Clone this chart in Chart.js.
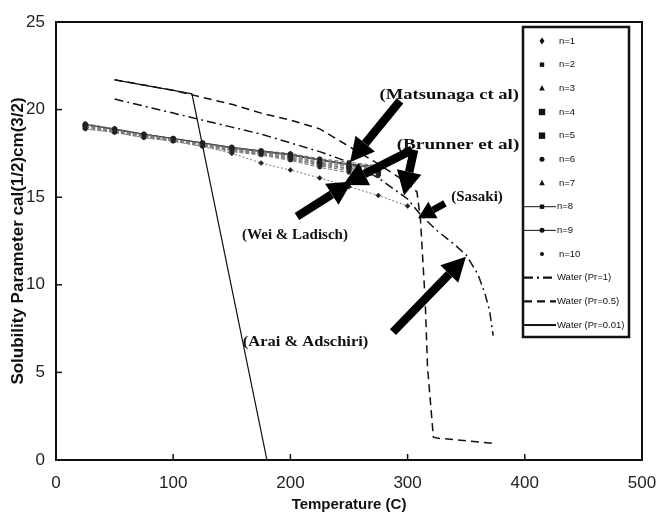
<!DOCTYPE html>
<html lang="en">
<head>
<meta charset="utf-8" />
<title>Solubility parameter vs temperature</title>
<script src="https://cdn.jsdelivr.net/npm/chart.js@4.4.1/dist/chart.umd.min.js"></script>
<style>
  html, body { margin: 0; padding: 0; background: #fff; }
</style>
</head>
<body>
<canvas id="sp_chart" width="661" height="518"></canvas>
<script>
  // temperatures (C) of the oligomer points
  const temps = [25, 50, 75, 100, 125, 150, 175, 200, 225, 250, 275];
  const tempsN1 = [25, 50, 75, 100, 125, 150, 175, 200, 225, 250, 275, 300];

  // solubility parameter cal(1/2)cm(3/2) for n = 1..10
  const n1 = [18.9, 18.7, 18.4, 18.2, 17.9, 17.5, 16.95, 16.55, 16.1, 15.6, 15.1, 14.5];
  const n2 = [18.9, 18.7, 18.4, 18.2, 17.9, 17.6, 17.4, 17.1, 16.7, 16.4, 16.2];
  const n3 = [19.0, 18.75, 18.45, 18.25, 17.95, 17.65, 17.45, 17.15, 16.8, 16.5, 16.3];
  const n4 = [19.0, 18.75, 18.5, 18.25, 18.0, 17.7, 17.5, 17.2, 16.85, 16.6, 16.35];
  const n5 = [19.05, 18.8, 18.5, 18.3, 18.0, 17.7, 17.5, 17.25, 16.9, 16.65, 16.45];
  const n6 = [19.1, 18.8, 18.55, 18.3, 18.05, 17.75, 17.55, 17.3, 16.95, 16.75, 16.55];
  const n7 = [19.1, 18.85, 18.55, 18.3, 18.05, 17.8, 17.6, 17.35, 17.0, 16.8, 16.6];
  const n8 = [19.15, 18.85, 18.6, 18.35, 18.1, 17.8, 17.6, 17.4, 17.1, 16.85, 16.65];
  const n9 = [19.15, 18.9, 18.6, 18.35, 18.1, 17.85, 17.65, 17.45, 17.15, 16.9, 16.75];
  const n10 = [19.2, 18.9, 18.6, 18.35, 18.1, 17.85, 17.65, 17.5, 17.2, 17.0, 16.8];

  // water curves
  const waterPr1T = [50, 75, 100, 125, 150, 175, 200, 225, 250, 275, 300, 311, 325, 340, 350, 360, 366, 370, 373];
  const waterPr1S = [20.6, 20.2, 19.8, 19.4, 19.0, 18.6, 18.1, 17.6, 17.0, 16.1, 14.9, 14.0, 13.1, 12.3, 11.7, 10.6, 9.5, 8.5, 7.1];
  const waterPr05T = [50, 75, 100, 125, 150, 175, 200, 225, 250, 275, 300, 308, 311, 315, 317, 322, 325, 350, 373];
  const waterPr05S = [21.7, 21.4, 21.1, 20.7, 20.3, 19.8, 19.4, 18.9, 17.9, 16.9, 15.8, 15.3, 13.7, 9.1, 5.3, 1.3, 1.25, 1.1, 0.95];
  const waterPr001T = [50, 75, 100, 116, 180];
  const waterPr001S = [21.7, 21.4, 21.1, 20.9, 0];

  // annotations (data units): label text, label position, arrow tails and tips
  const noteTexts = ["(Matsunaga ct al)", "(Brunner et al)", "(Sasaki)", "(Wei & Ladisch)", "(Arai & Adschiri)"];
  const noteX = [335.5, 343.0, 359.2, 203.9, 212.9];
  const noteY = [20.8, 18.0, 15.0, 12.83, 6.7];
  const noteStretch = [1.24, 1.28, 1.0, 1.0, 1.1];
  const arrowTailX = [293.5, 303.8, 305.5, 331.9, 205.6, 287.5];
  const arrowTailY = [20.5, 17.7, 17.7, 14.65, 13.9, 7.3];
  const arrowTipX = [250.9, 244.9, 296.9, 308.9, 252.6, 349.8];
  const arrowTipY = [17.0, 15.7, 15.1, 13.8, 15.9, 11.6];

  function pts(xs, ys) {
    return xs.map((x, i) => ({ x: x, y: ys[i] }));
  }

  function nSeries(label, ys, style, radius, dash, xs, withLine) {
    return {
      label: label,
      data: pts(xs || temps, ys),
      showLine: true,
      borderColor: withLine ? "#444" : "#777",
      borderWidth: 1,
      borderDash: dash,
      pointStyle: style,
      pointRadius: radius,
      pointBackgroundColor: "#222",
      pointBorderColor: "#222",
      pointBorderWidth: 0.5,
      legendLine: withLine,
    };
  }

  const datasets = [
    nSeries("n=1", n1, "rectRot", 2.5, [2, 2], tempsN1, false),
    nSeries("n=2", n2, "rect", 2.2, [4, 2], null, false),
    nSeries("n=3", n3, "triangle", 2.8, [4, 2], null, false),
    nSeries("n=4", n4, "rect", 3.2, [4, 2], null, false),
    nSeries("n=5", n5, "rect", 3.2, [4, 2], null, false),
    nSeries("n=6", n6, "circle", 2.5, [4, 2], null, false),
    nSeries("n=7", n7, "triangle", 2.8, [4, 2], null, false),
    nSeries("n=8", n8, "rect", 2.2, [], null, true),
    nSeries("n=9", n9, "circle", 2.5, [], null, true),
    nSeries("n=10", n10, "circle", 2, [4, 2], null, false),
    {
      label: "Water (Pr=1)",
      data: pts(waterPr1T, waterPr1S),
      showLine: true, borderColor: "#111", borderWidth: 1.5,
      borderDash: [9, 4, 2, 4], pointRadius: 0, legendLine: true,
    },
    {
      label: "Water (Pr=0.5)",
      data: pts(waterPr05T, waterPr05S),
      showLine: true, borderColor: "#111", borderWidth: 1.5,
      borderDash: [8, 5], pointRadius: 0, legendLine: true,
    },
    {
      label: "Water (Pr=0.01)",
      data: pts(waterPr001T, waterPr001S),
      showLine: true, borderColor: "#111", borderWidth: 1.2,
      borderDash: [], pointRadius: 0, legendLine: true,
    },
  ];

  function drawMarker(ctx, style, r, x, y) {
    ctx.beginPath();
    if (style === "rect") {
      ctx.rect(x - r, y - r, 2 * r, 2 * r);
    } else if (style === "rectRot") {
      ctx.moveTo(x, y - r * 1.4); ctx.lineTo(x + r, y);
      ctx.lineTo(x, y + r * 1.4); ctx.lineTo(x - r, y);
      ctx.closePath();
    } else if (style === "triangle") {
      ctx.moveTo(x, y - r * 1.2); ctx.lineTo(x + r, y + r * 0.8);
      ctx.lineTo(x - r, y + r * 0.8); ctx.closePath();
    } else {
      ctx.arc(x, y, r, 0, Math.PI * 2);
    }
    ctx.fill();
  }

  function drawArrow(ctx, x1, y1, x2, y2, w, headLen, headW) {
    const a = Math.atan2(y2 - y1, x2 - x1);
    const bx = x2 - headLen * Math.cos(a), by = y2 - headLen * Math.sin(a);
    ctx.lineWidth = w;
    ctx.beginPath(); ctx.moveTo(x1, y1); ctx.lineTo(bx, by); ctx.stroke();
    ctx.beginPath();
    ctx.moveTo(x2, y2);
    ctx.lineTo(bx + headW / 2 * Math.sin(a), by - headW / 2 * Math.cos(a));
    ctx.lineTo(bx - headW / 2 * Math.sin(a), by + headW / 2 * Math.cos(a));
    ctx.closePath(); ctx.fill();
  }

  const extrasPlugin = {
    id: "extras",
    afterDatasetsDraw(chart) {
      const ctx = chart.ctx, xs = chart.scales.x, ys = chart.scales.y;
      ctx.save();
      // arrows
      ctx.fillStyle = "#000"; ctx.strokeStyle = "#000"; ctx.setLineDash([]);
      for (let i = 0; i < arrowTipX.length; i++) {
        const big = i !== 3;
        drawArrow(ctx,
          xs.getPixelForValue(arrowTailX[i]), ys.getPixelForValue(arrowTailY[i]),
          xs.getPixelForValue(arrowTipX[i]), ys.getPixelForValue(arrowTipY[i]),
          big ? 8.5 : 7, big ? 24 : 17, big ? 25 : 19);
      }
      // annotation labels
      ctx.font = 'bold 15px "Liberation Serif", "Times New Roman", serif';
      ctx.textAlign = "center"; ctx.textBaseline = "middle"; ctx.fillStyle = "#111";
      noteTexts.forEach((t, i) => {
        ctx.save();
        ctx.translate(xs.getPixelForValue(noteX[i]), ys.getPixelForValue(noteY[i]));
        ctx.scale(noteStretch[i], 1);
        ctx.fillText(t, 0, 0);
        ctx.restore();
      });
      ctx.restore();
    },
    afterDraw(chart) {
      const ctx = chart.ctx, a = chart.chartArea;
      const xs = chart.scales.x, ys = chart.scales.y;
      ctx.save();
      ctx.setLineDash([]);
      ctx.strokeStyle = "#111";
      // plot frame
      ctx.lineWidth = 2;
      ctx.strokeRect(a.left, a.top, a.right - a.left, a.bottom - a.top);
      // inside tick marks
      ctx.lineWidth = 1.5;
      xs.ticks.forEach((t) => {
        if (t.value <= xs.min || t.value >= xs.max) return;
        const px = xs.getPixelForValue(t.value);
        ctx.beginPath(); ctx.moveTo(px, a.bottom); ctx.lineTo(px, a.bottom - 6); ctx.stroke();
      });
      ys.ticks.forEach((t) => {
        if (t.value <= ys.min || t.value >= ys.max) return;
        const py = ys.getPixelForValue(t.value);
        ctx.beginPath(); ctx.moveTo(a.left, py); ctx.lineTo(a.left + 6, py); ctx.stroke();
      });

      // legend box inside the plot
      const lx = 523, ly = 27, lw = 106, lh = 310, step = 23.67;
      ctx.fillStyle = "#fff";
      ctx.fillRect(lx, ly, lw, lh);
      ctx.lineWidth = 2.5;
      ctx.strokeStyle = "#111";
      ctx.strokeRect(lx, ly, lw, lh);
      ctx.font = '9.5px "Liberation Sans", Arial, sans-serif';
      ctx.textAlign = "left"; ctx.textBaseline = "middle";
      chart.data.datasets.forEach((ds, i) => {
        const y = ly + 14 + i * step;
        const mx = 542;
        ctx.fillStyle = "#111";
        if (ds.legendLine) {
          ctx.strokeStyle = "#111";
          ctx.lineWidth = ds.pointRadius ? 1 : ds.borderWidth + 0.8;
          ctx.setLineDash(ds.borderDash || []);
          ctx.beginPath(); ctx.moveTo(lx + 1, y); ctx.lineTo(556, y); ctx.stroke();
          ctx.setLineDash([]);
        }
        if (ds.pointRadius) {
          ctx.fillStyle = "#111";
          drawMarker(ctx, ds.pointStyle, ds.pointRadius, mx, y);
        }
        ctx.fillStyle = "#111";
        ctx.fillText(ds.label, ds.legendLine ? 557 : 559, y);
      });
      ctx.restore();
    },
  };

  const fontSans = '"Liberation Sans", Arial, sans-serif';

  const config = {
    type: "scatter",
    data: { datasets: datasets },
    options: {
      responsive: false,
      animation: false,
      devicePixelRatio: 1,
      layout: { padding: { top: 22, right: 19, left: 0, bottom: 0 } },
      plugins: { legend: { display: false }, tooltip: { enabled: false } },
      scales: {
        x: {
          type: "linear", min: 0, max: 500,
          afterFit: (s) => { s.height = 58; s.paddingLeft = 0; s.paddingRight = 0; },
          ticks: {
            stepSize: 100, padding: 13, color: "#222",
            font: { family: fontSans, size: 17 },
          },
          grid: { display: false, drawTicks: false },
          border: { display: false },
          title: {
            display: true, text: "Temperature (C)", color: "#111",
            font: { family: fontSans, size: 15, weight: "bold" },
            padding: { top: 0, bottom: 4 },
          },
        },
        y: {
          type: "linear", min: 0, max: 25,
          afterFit: (s) => { s.width = 56; s.paddingTop = 0; s.paddingBottom = 0; },
          ticks: {
            stepSize: 5, padding: 11, color: "#222",
            font: { family: fontSans, size: 17 },
          },
          grid: { display: false, drawTicks: false },
          border: { display: false },
          title: {
            display: true, text: "Solubility Parameter cal(1/2)cm(3/2)", color: "#111",
            font: { family: fontSans, size: 17, weight: "bold" },
            padding: { top: 8, bottom: 0 },
          },
        },
      },
    },
    plugins: [extrasPlugin],
  };

  const spChart = new Chart(document.getElementById("sp_chart"), config);
</script>
</body>
</html>
